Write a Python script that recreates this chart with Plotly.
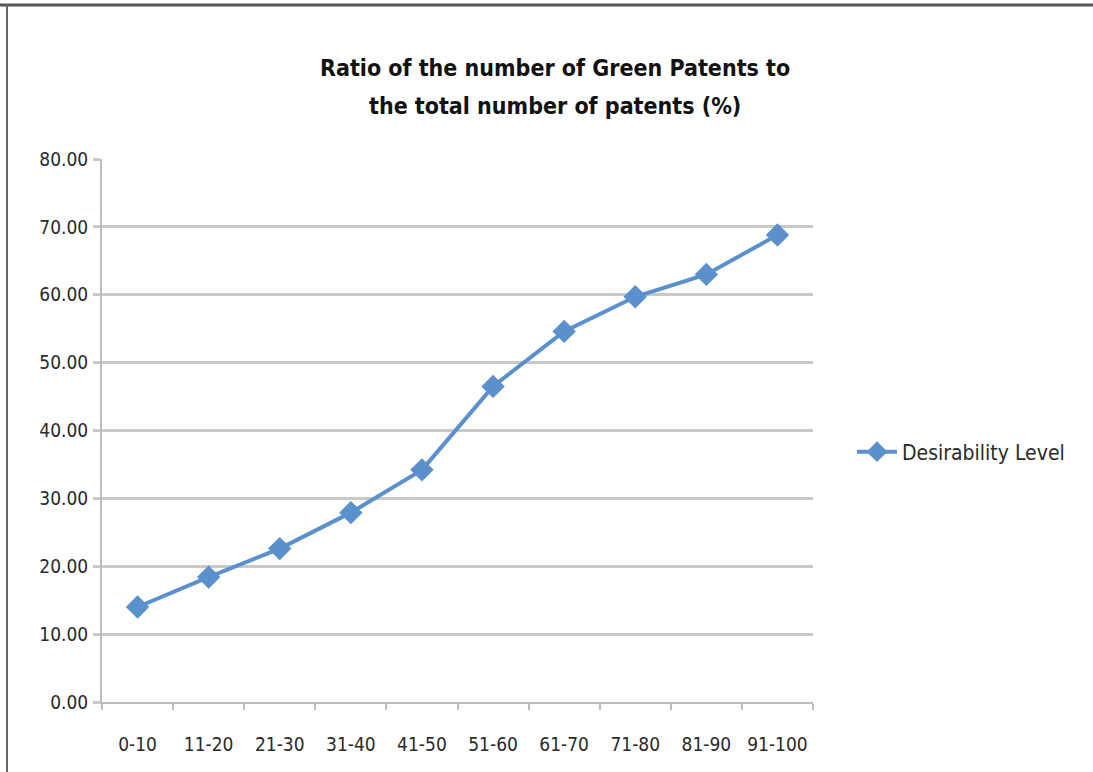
import plotly.graph_objects as go

categories = ["0-10", "11-20", "21-30", "31-40", "41-50", "51-60", "61-70", "71-80", "81-90", "91-100"]
values = [14.0, 18.4, 22.6, 27.9, 34.2, 46.5, 54.6, 59.7, 63.0, 68.8]
y_ticks = [0, 10, 20, 30, 40, 50, 60, 70, 80]
y_tick_labels = ["%.2f" % v for v in y_ticks]
series_name = "Desirability Level"
title_lines = ["Ratio of the number of Green Patents to", "the total number of patents (%)"]

FONT = "DejaVu Sans Condensed, Liberation Sans Narrow, Open Sans, sans-serif"
BLUE = "#5A90CC"
TEXT = "#2a2a2a"

W, H = 1093, 772
L, R, T, B = 102, 280, 159, 70
PW, PH = W - L - R, H - T - B

fig = go.Figure()
fig.add_trace(go.Scatter(
    x=categories, y=values, name=series_name, mode="lines+markers",
    line=dict(color=BLUE, width=4),
    marker=dict(symbol="diamond", size=18, color=BLUE),
    showlegend=True,
))

fig.update_layout(
    width=W, height=H,
    paper_bgcolor="white", plot_bgcolor="white",
    margin=dict(l=L, r=R, t=T, b=B, autoexpand=False),
    font=dict(family=FONT, size=19, color=TEXT),
    showlegend=True,
    legend=dict(x=(852 - L) / PW, y=(702 - 452) / PH, xanchor="left", yanchor="middle",
                font=dict(family=FONT, size=21, color=TEXT),
                bgcolor="rgba(0,0,0,0)", itemwidth=40),
    xaxis=dict(
        type="category", range=[-0.5, 9.5],
        showgrid=False, showline=True, linecolor="#BDBDBD", linewidth=2,
        ticks="outside", tickson="boundaries", ticklen=6, tickwidth=2, tickcolor="#BDBDBD",
        tickfont=dict(family=FONT, size=19, color=TEXT),
        zeroline=False, ticklabelstandoff=24,
    ),
    yaxis=dict(
        range=[0, 80], tickvals=y_ticks, ticktext=y_tick_labels,
        showgrid=True, gridcolor="#C9C9C9", gridwidth=3,
        showline=True, linecolor="#BDBDBD", linewidth=2,
        ticks="outside", ticklen=7, tickwidth=3, tickcolor="#C9C9C9",
        tickfont=dict(family=FONT, size=19, color=TEXT),
        zeroline=False, ticklabelstandoff=1,
    ),
)

# Title as two lines (wider line spacing than plotly's default)
for line, ypx in zip(title_lines, [68, 106]):
    fig.add_annotation(text="<b>" + line + "</b>", xref="paper", yref="paper",
                       x=(555 - L) / PW, y=1 + (T - ypx) / PH,
                       xanchor="center", yanchor="middle", showarrow=False,
                       font=dict(family=FONT, size=23, color="#111111"))

# Outer frame of the chart image
fig.add_shape(type="line", xref="paper", yref="paper",
              x0=-L / PW, x1=(W - L) / PW,
              y0=1 + (T - 5) / PH, y1=1 + (T - 5) / PH,
              line=dict(color="#555555", width=3))
fig.add_shape(type="line", xref="paper", yref="paper",
              x0=-(L - 7) / PW, x1=-(L - 7) / PW,
              y0=-B / PH, y1=1 + (T - 5) / PH,
              line=dict(color="#666666", width=2))

fig.write_html("out.html", config={"displayModeBar": False},
               post_script="document.body.style.margin='0';")
